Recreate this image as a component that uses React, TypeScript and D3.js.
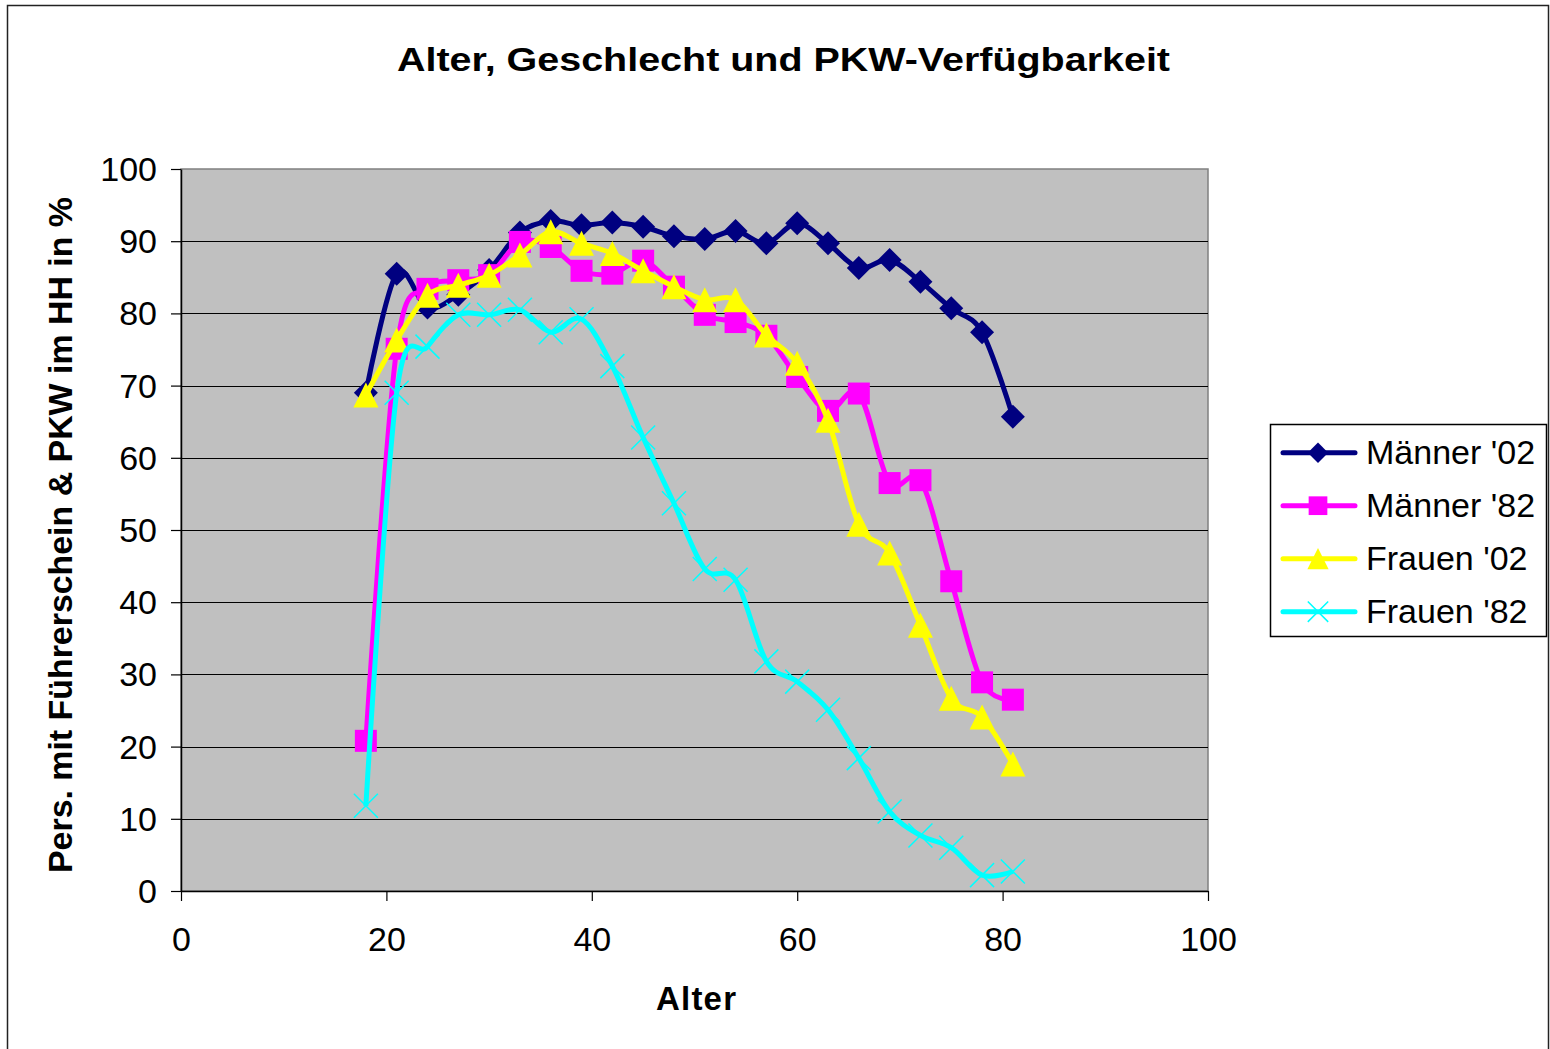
import React, { useRef, useEffect } from 'react';
import * as d3 from 'd3';

// --- DATA ---
const ages = [18, 21, 24, 27, 30, 33, 36, 39, 42, 45, 48, 51, 54, 57, 60, 63, 66, 69, 72, 75, 78, 81];
const maenner02 = [69.0, 85.5, 80.8, 82.6, 86.0, 91.2, 92.8, 92.2, 92.6, 92.0, 90.7, 90.3, 91.4, 89.7, 92.5, 89.7, 86.3, 87.4, 84.4, 80.7, 77.4, 65.7];
const maenner82 = [20.8, 75.1, 83.4, 84.6, 85.3, 89.9, 89.2, 85.9, 85.5, 87.3, 83.7, 79.8, 78.8, 76.9, 71.2, 66.5, 68.9, 56.5, 56.9, 42.9, 28.9, 26.5];
const frauen02 = [68.7, 76.3, 82.5, 83.9, 85.3, 88.1, 91.3, 89.7, 88.3, 85.9, 83.7, 81.9, 81.9, 77.0, 73.1, 65.2, 50.8, 46.8, 36.8, 26.7, 24.1, 17.6];
const frauen82 = [11.8, 69.0, 75.4, 79.8, 79.8, 80.5, 77.4, 79.2, 72.7, 62.8, 53.7, 44.6, 43.1, 31.8, 29.0, 25.1, 18.4, 11.0, 7.7, 6.0, 2.2, 2.7];

const seriesNames = ["Männer '02", "Männer '82", "Frauen '02", "Frauen '82"];
const seriesColors = ['#000080', '#FF00FF', '#FFFF00', '#00FFFF'];
const seriesMarkers = ['diamond', 'square', 'triangle', 'x'];
const seriesValues = [maenner02, maenner82, frauen02, frauen82];

const xTicks = [0, 20, 40, 60, 80, 100];
const yTicks = [0, 10, 20, 30, 40, 50, 60, 70, 80, 90, 100];

const FONT = "'Liberation Sans', Arial, Helvetica, sans-serif";

type G = d3.Selection<SVGGElement, unknown, null, undefined>;

// draws one marker centred at (cx, cy); k scales the size (legend markers are smaller)
const drawMarker = (g: G, kind: string, color: string, cx: number, cy: number, k: number) => {
  if (kind === 'diamond') {
    const s = 12 * k;
    g.append('path')
      .attr('d', `M${cx},${cy - s}L${cx + s},${cy}L${cx},${cy + s}L${cx - s},${cy}Z`)
      .attr('fill', color);
  } else if (kind === 'square') {
    const s = 11 * k;
    g.append('rect')
      .attr('x', cx - s).attr('y', cy - s)
      .attr('width', 2 * s).attr('height', 2 * s)
      .attr('fill', color);
  } else if (kind === 'triangle') {
    const s = 12.5 * k;
    g.append('path')
      .attr('d', `M${cx},${cy - s}L${cx + s},${cy + s}L${cx - s},${cy + s}Z`)
      .attr('fill', color);
  } else {
    const s = 12 * k;
    g.append('path')
      .attr('d', `M${cx - s},${cy - s}L${cx + s},${cy + s}M${cx - s},${cy + s}L${cx + s},${cy - s}`)
      .attr('stroke', color)
      .attr('stroke-width', 1.5)
      .attr('fill', 'none');
  }
};

export default function App() {
  const svgRef = useRef<SVGSVGElement>(null);

  useEffect(() => {
    if (!svgRef.current) return;
    const svg = d3.select(svgRef.current);
    svg.selectAll('*').remove();

    // plot area in page pixels
    const left = 181, right = 1208, top = 169, bottom = 891;
    const x = d3.scaleLinear().domain([0, 100]).range([left, right]);
    const y = d3.scaleLinear().domain([0, 100]).range([bottom, top]);

    // outer chart frame
    svg.append('rect')
      .attr('x', 7.5).attr('y', 5.5)
      .attr('width', 1541).attr('height', 1100)
      .attr('fill', '#fff')
      .attr('stroke', '#222')
      .attr('stroke-width', 1.5);

    // title
    svg.append('text')
      .attr('x', 783.5).attr('y', 71)
      .attr('text-anchor', 'middle')
      .attr('font-family', FONT)
      .attr('font-weight', 'bold')
      .attr('font-size', 34)
      .attr('textLength', 773)
      .attr('lengthAdjust', 'spacingAndGlyphs')
      .text('Alter, Geschlecht und PKW-Verfügbarkeit');

    // plot background
    svg.append('rect')
      .attr('x', left).attr('y', top)
      .attr('width', right - left).attr('height', bottom - top)
      .attr('fill', '#C0C0C0')
      .attr('stroke', '#808080')
      .attr('stroke-width', 1.5);

    // horizontal grid
    svg.append('g')
      .selectAll('line')
      .data(yTicks.filter(t => t > 0 && t < 100))
      .enter()
      .append('line')
      .attr('x1', left).attr('x2', right)
      .attr('y1', d => Math.round(y(d)) + 0.5)
      .attr('y2', d => Math.round(y(d)) + 0.5)
      .attr('stroke', '#000')
      .attr('stroke-width', 1.2);

    // axes
    const styleAxis = (sel: G) => {
      sel.attr('font-family', FONT).attr('font-size', 34);
      sel.select('.domain').attr('stroke', '#000').attr('stroke-width', 1.5);
      sel.selectAll('.tick line').attr('stroke', '#000').attr('stroke-width', 1.2);
      sel.selectAll('text').attr('fill', '#000');
    };

    const xAxis = svg.append('g')
      .attr('transform', `translate(0,${bottom})`)
      .call(d3.axisBottom(x).tickValues(xTicks).tickSize(10).tickSizeOuter(0));
    styleAxis(xAxis);
    xAxis.selectAll('text').attr('y', 60).attr('dy', 0);

    const yAxis = svg.append('g')
      .attr('transform', `translate(${left},0)`)
      .call(d3.axisLeft(y).tickValues(yTicks).tickSize(10).tickSizeOuter(0));
    styleAxis(yAxis);
    yAxis.selectAll('text').attr('x', -24).attr('dy', '0.34em');

    // axis titles
    svg.append('text')
      .attr('x', 696).attr('y', 1010)
      .attr('text-anchor', 'middle')
      .attr('font-family', FONT)
      .attr('font-weight', 'bold')
      .attr('font-size', 33)
      .attr('textLength', 80)
      .attr('lengthAdjust', 'spacing')
      .text('Alter');

    svg.append('text')
      .attr('transform', 'translate(72,535) rotate(-90)')
      .attr('text-anchor', 'middle')
      .attr('font-family', FONT)
      .attr('font-weight', 'bold')
      .attr('font-size', 33)
      .attr('textLength', 676)
      .attr('lengthAdjust', 'spacingAndGlyphs')
      .text('Pers. mit Führerschein & PKW im HH in %');

    // series: smoothed line then markers, in Excel's series order
    const line = d3.line<number>()
      .x((_, i) => x(ages[i]))
      .y(d => y(d))
      .curve(d3.curveCardinal.tension(0));

    seriesValues.forEach((vals, si) => {
      const g = svg.append('g');
      g.append('path')
        .attr('d', line(vals) || '')
        .attr('fill', 'none')
        .attr('stroke', seriesColors[si])
        .attr('stroke-width', 5)
        .attr('stroke-linejoin', 'round');
      vals.forEach((v, i) => drawMarker(g, seriesMarkers[si], seriesColors[si], x(ages[i]), y(v), 1));
    });

    // legend
    const legend = svg.append('g');
    legend.append('rect')
      .attr('x', 1270.5).attr('y', 424.5)
      .attr('width', 276).attr('height', 212)
      .attr('fill', '#fff')
      .attr('stroke', '#000')
      .attr('stroke-width', 1.5);

    const rowY = d3.scalePoint<string>().domain(seriesNames).range([452.7, 611.7]);
    seriesNames.forEach((name, si) => {
      const cy = rowY(name) || 0;
      const row = legend.append('g');
      row.append('line')
        .attr('x1', 1283).attr('x2', 1355)
        .attr('y1', cy).attr('y2', cy)
        .attr('stroke', seriesColors[si])
        .attr('stroke-width', 5)
        .attr('stroke-linecap', 'round');
      drawMarker(row, seriesMarkers[si], seriesColors[si], 1318, cy, 0.85);
      row.append('text')
        .attr('x', 1366).attr('y', cy + 11.5)
        .attr('font-family', FONT)
        .attr('font-size', 34)
        .text(name);
    });
  }, []);

  return (
    <svg
      ref={svgRef}
      width={1550}
      height={1049}
      style={{ position: 'absolute', left: 0, top: 0, background: '#fff' }}
    />
  );
}
